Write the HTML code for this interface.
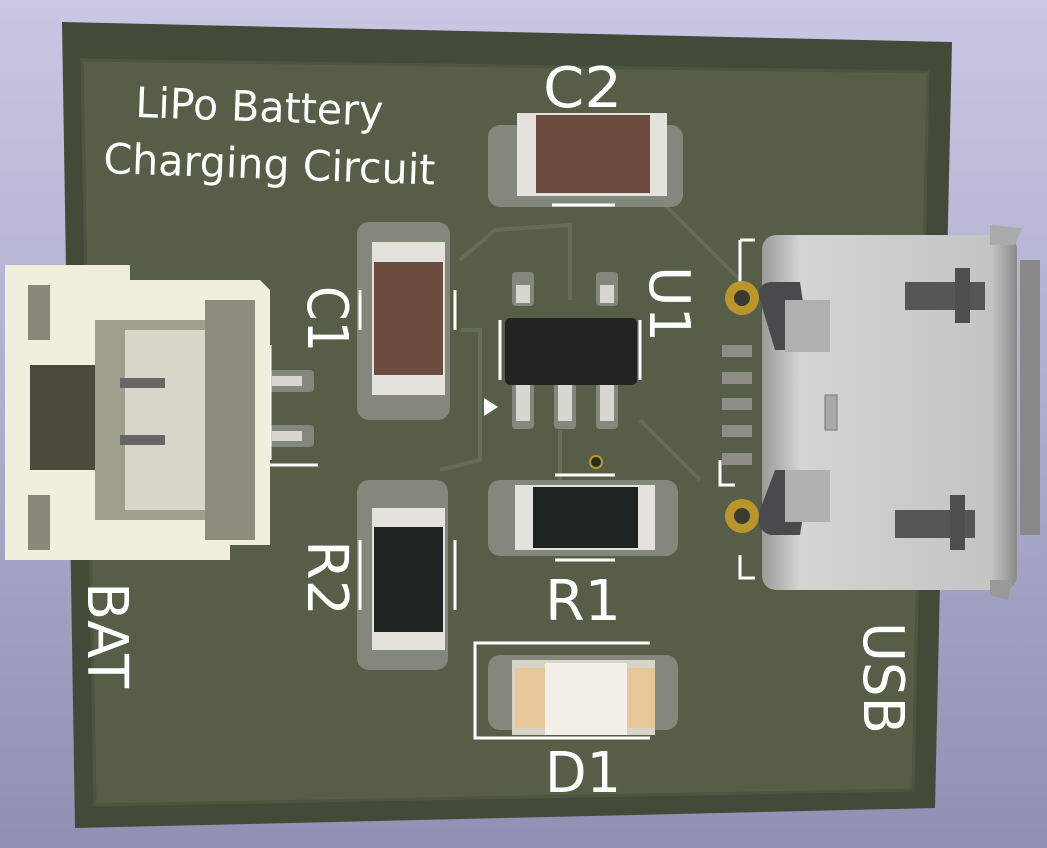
<!DOCTYPE html><html><head><style>body{margin:0;background:#b8b8d6}svg{display:block}text{font-family:"DejaVu Sans","Liberation Sans",sans-serif;fill:#fff}</style></head><body>
<svg width="1047" height="848" viewBox="0 0 1047 848">
<defs><linearGradient id="bg" x1="0" y1="0" x2="0" y2="1"><stop offset="0" stop-color="#c8c8e4"/><stop offset="1" stop-color="#9090b4"/></linearGradient>
<linearGradient id="usb" x1="0" y1="0" x2="1" y2="0"><stop offset="0" stop-color="#9a9a9a"/><stop offset=".15" stop-color="#d4d4d4"/><stop offset=".9" stop-color="#c4c4c4"/><stop offset="1" stop-color="#8a8a8a"/></linearGradient></defs>
<rect width="1047" height="848" fill="url(#bg)"/>
<polygon points="62,22 952,42 935,808 75,828" fill="#414b37"/>
<polygon points="82,60 928,72 913,790 95,805" fill="#575e47" stroke="#4c5540" stroke-width="3"/>
<g fill="none" stroke="#6a745e" stroke-width="4" opacity=".7">
<path d="M460,260 L495,230 L570,225 L570,300"/><path d="M460,330 L480,330 L480,460 L440,470"/><path d="M600,150 L660,200 L700,240 L740,280"/><path d="M640,420 L700,480"/><path d="M560,430 L560,480"/></g>
<g fill="#84877c"><rect x="488" y="125" width="195" height="82" rx="12"/><rect x="357" y="222" width="93" height="198" rx="12"/><rect x="488" y="480" width="190" height="76" rx="12"/><rect x="357" y="480" width="91" height="190" rx="12"/><rect x="488" y="655" width="190" height="75" rx="12"/>
<rect x="512" y="272" width="22" height="34" rx="4"/><rect x="596" y="272" width="22" height="34" rx="4"/><rect x="512" y="383" width="22" height="46" rx="4"/><rect x="554" y="383" width="22" height="46" rx="4"/><rect x="596" y="383" width="22" height="46" rx="4"/>
<rect x="268" y="370" width="46" height="22" rx="4"/><rect x="268" y="425" width="46" height="22" rx="4"/></g>
<g fill="#d8d6d0"><rect x="272" y="376" width="30" height="10"/><rect x="272" y="431" width="30" height="10"/><rect x="516" y="285" width="14" height="18"/><rect x="600" y="285" width="14" height="18"/><rect x="516" y="385" width="14" height="36"/><rect x="558" y="385" width="14" height="36"/><rect x="600" y="385" width="14" height="36"/></g>
<rect x="517" y="113" width="150" height="83" fill="#e4e2dc"/><rect x="536" y="115" width="114" height="78" fill="#6b4c3e"/>
<rect x="372" y="242" width="73" height="153" fill="#e4e2dc"/><rect x="374" y="262" width="69" height="113" fill="#6b4c3e"/>
<rect x="505" y="318" width="132" height="67" rx="5" fill="#232323"/>
<polygon points="484,398 484,416 498,407" fill="#fff"/>
<rect x="515" y="485" width="140" height="65" fill="#e4e2dc"/><rect x="533" y="487" width="105" height="61" fill="#1e2422"/>
<rect x="372" y="508" width="73" height="142" fill="#e4e2dc"/><rect x="374" y="527" width="69" height="105" fill="#1e2422"/>
<rect x="512" y="660" width="143" height="75" fill="#d8d4c8"/><rect x="515" y="668" width="30" height="60" fill="#e6c898"/><rect x="627" y="668" width="28" height="60" fill="#e6c898"/><rect x="545" y="663" width="82" height="72" fill="#f2f0e8"/>
<path d="M650,643 L475,643 L475,738 L650,738" fill="none" stroke="#fff" stroke-width="3"/>
<g stroke="#fff" stroke-width="3" fill="none"><path d="M552,205 L615,205"/><path d="M555,475 L615,475"/><path d="M555,560 L615,560"/><path d="M500,320 L500,380"/><path d="M640,320 L640,380"/><path d="M360,290 L360,330"/><path d="M455,290 L455,330"/><path d="M360,540 L360,610"/><path d="M455,540 L455,610"/>
<path d="M270,345 L270,460 M270,465 L318,465 M740,240 L755,240 M740,240 L740,298 M720,460 L720,485 L735,485 M740,555 L740,578 L755,578"/></g>
<circle cx="596" cy="462" r="6" fill="#2a2a20" stroke="#b8962c" stroke-width="2"/>
<polygon points="5,265 130,265 130,280 260,280 270,290 270,545 230,545 230,560 5,560" fill="#f0eedc"/>
<rect x="28" y="285" width="22" height="55" fill="#8a8878"/><rect x="28" y="495" width="22" height="55" fill="#8a8878"/>
<rect x="30" y="365" width="75" height="105" fill="#4a4a3e"/><rect x="95" y="320" width="110" height="200" fill="#a09e8c"/><rect x="125" y="330" width="80" height="180" fill="#d8d6c8"/><rect x="205" y="300" width="50" height="240" fill="#8e8c7c"/>
<rect x="120" y="378" width="45" height="10" fill="#666"/><rect x="120" y="435" width="45" height="10" fill="#666"/>
<circle cx="742" cy="298" r="17" fill="#b8962c"/><circle cx="742" cy="298" r="8" fill="#3a3a30"/>
<circle cx="742" cy="516" r="17" fill="#b8962c"/><circle cx="742" cy="516" r="8" fill="#3a3a30"/>
<g fill="#8e8e88"><rect x="722" y="345" width="30" height="12"/><rect x="722" y="372" width="30" height="12"/><rect x="722" y="398" width="30" height="12"/><rect x="722" y="425" width="30" height="12"/><rect x="722" y="453" width="30" height="12"/></g>
<rect x="762" y="235" width="255" height="355" rx="14" fill="url(#usb)"/>
<polygon points="990,225 1022,228 1015,245 990,245" fill="#aaa"/><polygon points="990,580 1012,580 1008,600 990,595" fill="#999"/>
<rect x="1020" y="260" width="20" height="275" fill="#888"/>
<path d="M760,300 Q755,285 770,282 L800,282 L810,350 L775,350 Z" fill="#4a4a4c"/><path d="M760,510 Q755,530 770,535 L800,535 L810,470 L775,470 Z" fill="#4a4a4c"/>
<rect x="785" y="300" width="45" height="52" fill="#b0b0b0"/><rect x="785" y="470" width="45" height="52" fill="#b0b0b0"/>
<rect x="905" y="282" width="80" height="28" fill="#555"/><rect x="955" y="268" width="15" height="55" fill="#4e4e4e"/>
<rect x="895" y="510" width="80" height="28" fill="#555"/><rect x="950" y="495" width="15" height="55" fill="#4e4e4e"/>
<rect x="825" y="395" width="12" height="35" fill="#aaa" stroke="#777"/>
<text x="135" y="117" font-size="42" textLength="248" lengthAdjust="spacingAndGlyphs" transform="rotate(2 135 117)">LiPo Battery</text>
<text x="103" y="173" font-size="42" textLength="332" lengthAdjust="spacingAndGlyphs" transform="rotate(2 103 173)">Charging Circuit</text>
<text x="543" y="107" font-size="56" textLength="79" lengthAdjust="spacingAndGlyphs">C2</text>
<text x="545" y="620" font-size="56" textLength="76" lengthAdjust="spacingAndGlyphs">R1</text>
<text x="545" y="792" font-size="56" textLength="76" lengthAdjust="spacingAndGlyphs">D1</text>
<text font-size="56" textLength="66" lengthAdjust="spacingAndGlyphs" transform="translate(308,286) rotate(90)">C1</text>
<text font-size="56" textLength="76" lengthAdjust="spacingAndGlyphs" transform="translate(308,540) rotate(90)">R2</text>
<text font-size="56" textLength="76" lengthAdjust="spacingAndGlyphs" transform="translate(650,266) rotate(90)">U1</text>
<text font-size="56" textLength="106" lengthAdjust="spacingAndGlyphs" transform="translate(88,582) rotate(90)">BAT</text>
<text font-size="56" textLength="112" lengthAdjust="spacingAndGlyphs" transform="translate(864,622) rotate(90)">USB</text>
</svg></body></html>
